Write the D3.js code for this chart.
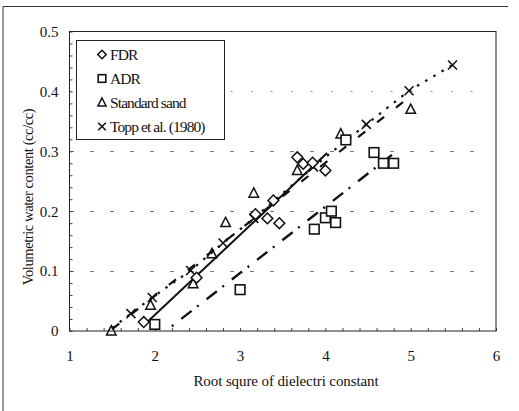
<!DOCTYPE html>
<html>
<head>
<meta charset="utf-8">
<script src="https://cdn.jsdelivr.net/npm/d3@7"></script>
<style>
  html, body { margin: 0; padding: 0; background: #fff; }
  svg { display: block; }
  text { font-family: "Liberation Serif", "Times New Roman", serif; fill: #111; }
</style>
</head>
<body>
<svg id="chart" width="519" height="411"></svg>
<script>
// Measured sets: root of dielectric constant vs volumetric water content
const fdrX  = [1.87, 2.49, 3.18, 3.32, 3.39, 3.46, 3.67, 3.74, 3.85, 4.00];
const fdrY  = [0.015, 0.089, 0.195, 0.188, 0.218, 0.180, 0.290, 0.279, 0.281, 0.268];

const adrX  = [2.00, 3.00, 3.87, 4.00, 4.07, 4.12, 4.24, 4.57, 4.68, 4.80];
const adrY  = [0.011, 0.069, 0.170, 0.189, 0.200, 0.181, 0.319, 0.298, 0.280, 0.280];

const sandX = [1.49, 1.95, 2.45, 2.67, 2.83, 3.16, 3.67, 4.18, 5.00];
const sandY = [0.000, 0.043, 0.079, 0.129, 0.181, 0.230, 0.268, 0.329, 0.370];

const toppX = [1.72, 1.97, 2.42, 2.80, 3.16, 3.86, 4.48, 4.98, 5.49];
const toppY = [0.029, 0.056, 0.101, 0.147, 0.188, 0.274, 0.345, 0.401, 0.444];

// Fitted lines (end points)
const fdrFitX  = [1.89, 4.02];
const fdrFitY  = [0.012, 0.297];
const adrFitX  = [2.20, 4.78];
const adrFitY  = [0.008, 0.294];
const sandFitX = [1.50, 5.00];
const sandFitY = [0.003, 0.392];
const toppLineX = [1.50, 1.72, 1.97, 2.42, 2.80, 3.16, 3.86, 4.48, 4.98, 5.49];
const toppLineY = [0.005, 0.029, 0.056, 0.101, 0.147, 0.188, 0.274, 0.345, 0.401, 0.444];

const xTicks = [1, 2, 3, 4, 5, 6];
const yTicks = [0, 0.1, 0.2, 0.3, 0.4, 0.5];
const legendNames = ["FDR", "ADR", "Standard sand", "Topp et al. (1980)"];

const svg = d3.select("#chart");
const L = 69.5, R = 496, T = 31.5, B = 331;

const x = d3.scaleLinear().domain([1, 6]).range([L, R]);
const y = d3.scaleLinear().domain([0, 0.5]).range([B, T]);

const zip = (a, b) => a.map((v, i) => [v, b[i]]);

// outer frame (left and top edges)
svg.append("line").attr("x1", 3).attr("x2", 3).attr("y1", 6.5).attr("y2", 411)
  .attr("stroke", "#333").attr("stroke-width", 1);
svg.append("line").attr("x1", 3).attr("x2", 508).attr("y1", 6.5).attr("y2", 6.5)
  .attr("stroke", "#333").attr("stroke-width", 1);

// horizontal grid lines
const grid = svg.append("g");
[0.1, 0.2, 0.3].forEach(v => {
  grid.append("line").attr("x1", L).attr("x2", 490)
    .attr("y1", Math.round(y(v)) + 0.5).attr("y2", Math.round(y(v)) + 0.5)
    .attr("stroke", "#777").attr("stroke-width", 1)
    .attr("stroke-dasharray", "4,16").attr("stroke-dashoffset", -0.5);
});
grid.append("line").attr("x1", L).attr("x2", 490)
  .attr("y1", Math.round(y(0.4)) + 0.5).attr("y2", Math.round(y(0.4)) + 0.5)
  .attr("stroke", "#888").attr("stroke-width", 1)
  .attr("stroke-dasharray", "1.5,18.5").attr("stroke-dashoffset", -1.5);

// minor ticks inside the frame
svg.append("g").attr("transform", `translate(${L},0)`)
  .call(d3.axisRight(y).tickValues(d3.range(0, 0.5001, 0.02)).tickSize(3).tickFormat(""))
  .call(g => g.select(".domain").remove())
  .selectAll("line").attr("stroke", "#444");
svg.append("g").attr("transform", `translate(0,${B})`)
  .call(d3.axisTop(x).tickValues(d3.range(1, 6.001, 0.2)).tickSize(3).tickFormat(""))
  .call(g => g.select(".domain").remove())
  .selectAll("line").attr("stroke", "#444");

// tick labels
svg.append("g").attr("transform", `translate(0,${B})`)
  .call(d3.axisBottom(x).tickValues(xTicks).tickSize(0).tickPadding(19).tickFormat(d3.format("d")))
  .call(g => g.select(".domain").remove())
  .selectAll("text").style("font-size", "15px").style("font-family", "Liberation Serif");
svg.append("g").attr("transform", `translate(${L},0)`)
  .call(d3.axisLeft(y).tickValues(yTicks).tickSize(0).tickPadding(11)
    .tickFormat(d => d === 0 ? "0" : d3.format(".1f")(d)))
  .call(g => g.select(".domain").remove())
  .selectAll("text").style("font-size", "15px").style("font-family", "Liberation Serif");

// plot frame
svg.append("rect").attr("x", L).attr("y", T).attr("width", R - L).attr("height", B - T)
  .attr("fill", "none").attr("stroke", "#222").attr("stroke-width", 1);

// fitted lines
const line = d3.line().x(d => x(d[0])).y(d => y(d[1]));
const lines = svg.append("g").attr("fill", "none").attr("stroke", "#111");
lines.append("path").datum(zip(sandFitX, sandFitY)).attr("d", line)
  .attr("stroke-width", 2.2).attr("stroke-dasharray", "9,15");
lines.append("path").datum(zip(toppLineX, toppLineY)).attr("d", line)
  .attr("stroke-width", 2.2).attr("stroke-dasharray", "2.5,7");
lines.append("path").datum(zip(fdrFitX, fdrFitY)).attr("d", line)
  .attr("stroke-width", 2);
lines.append("path").datum(zip(adrFitX, adrFitY)).attr("d", line)
  .attr("stroke-width", 2.4).attr("stroke-dasharray", "2,10,13,7");

// marker shapes
function diamond(g, s) {
  g.append("path").attr("d", `M0,${-s}L${s},0L0,${s}L${-s},0Z`)
    .attr("fill", "#fff").attr("stroke", "#111").attr("stroke-width", 1.5);
}
function square(g, s) {
  g.append("rect").attr("x", -s).attr("y", -s).attr("width", 2 * s).attr("height", 2 * s)
    .attr("fill", "#fff").attr("stroke", "#111").attr("stroke-width", 1.6);
}
function triangle(g, s) {
  g.append("path").attr("d", `M0,${-s}L${s * 0.9},${s * 0.75}L${-s * 0.9},${s * 0.75}Z`)
    .attr("fill", "none").attr("stroke", "#111").attr("stroke-width", 1.5);
}
function cross(g, s) {
  g.append("path").attr("d", `M${-s},${-s}L${s},${s}M${-s},${s}L${s},${-s}`)
    .attr("fill", "none").attr("stroke", "#111").attr("stroke-width", 1.6);
}

function plotSet(xs, ys, draw, s) {
  svg.append("g").selectAll("g").data(zip(xs, ys)).join("g")
    .attr("transform", d => `translate(${x(d[0])},${y(d[1])})`)
    .each(function () { draw(d3.select(this), s); });
}
plotSet(sandX, sandY, triangle, 5.3);
plotSet(toppX, toppY, cross, 4.5);
plotSet(adrX, adrY, square, 4.8);
plotSet(fdrX, fdrY, diamond, 5.4);

// legend
const lg = svg.append("g");
lg.append("rect").attr("x", 76.5).attr("y", 40.5).attr("width", 148).attr("height", 99)
  .attr("fill", "#fff").attr("stroke", "#222").attr("stroke-width", 1);
const drawers = [diamond, square, triangle, cross];
const sizes = [4.2, 3.8, 4.5, 3.8];
legendNames.forEach((name, i) => {
  const cy = 54.5 + i * 24;
  const m = lg.append("g").attr("transform", `translate(102,${cy})`);
  drawers[i](m, sizes[i]);
  lg.append("text").attr("x", 110).attr("y", cy).attr("dy", "0.35em")
    .style("font-size", "15.5px").style("letter-spacing", "-0.9px").text(name);
});

// axis titles
svg.append("text").attr("x", 286).attr("y", 381).attr("dy", "0.35em")
  .attr("text-anchor", "middle").style("font-size", "15px").style("letter-spacing", "-0.1px")
  .text("Root squre of dielectri constant");
svg.append("text").attr("transform", "translate(28,197) rotate(-90)")
  .attr("dy", "0.35em").attr("text-anchor", "middle")
  .style("font-size", "14.5px").style("letter-spacing", "-0.4px")
  .text("Volumetric water content (cc/cc)");
</script>
</body>
</html>
